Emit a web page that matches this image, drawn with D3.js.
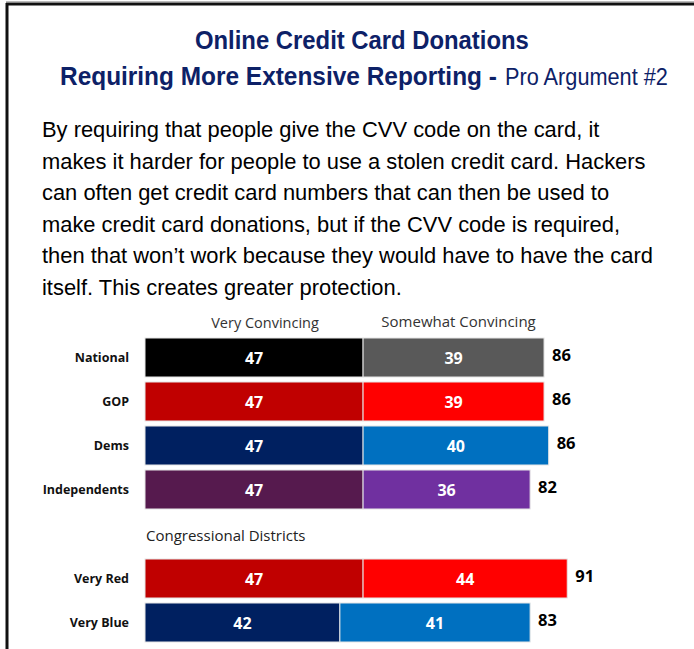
<!DOCTYPE html>
<html>
<head>
<meta charset="utf-8">
<title>Online Credit Card Donations</title>
<script src="https://cdn.jsdelivr.net/npm/d3@7"></script>
<style>
  body { margin: 0; background: #fff; }
  svg { display: block; }
</style>
</head>
<body>
<script>
// chart data
var groups = ["National", "GOP", "Dems", "Independents", "Very Red", "Very Blue"];
var veryConvincing = [47, 47, 47, 47, 47, 42];
var somewhatConvincing = [39, 39, 40, 36, 44, 41];
var totals = [86, 86, 86, 82, 91, 83];
var seriesNames = ["Very Convincing", "Somewhat Convincing"];
var darkColors = ["#000000", "#c00000", "#002060", "#561a4e", "#c00000", "#002060"];
var lightColors = ["#595959", "#ff0000", "#0070c0", "#7030a0", "#ff0000", "#0070c0"];

var bodyLines = [
  "By requiring that people give the CVV code on the card, it",
  "makes it harder for people to use a stolen credit card. Hackers",
  "can often get credit card numbers that can then be used to",
  "make credit card donations, but if the CVV code is required,",
  "then that won\u2019t work because they would have to have the card",
  "itself. This creates greater protection."
];

var width = 694, height = 649;

var svg = d3.select("body").append("svg")
    .attr("width", width)
    .attr("height", height);

// frame (top + left only)
svg.append("line").attr("x1", 6).attr("x2", width).attr("y1", 1.5).attr("y2", 1.5)
    .attr("stroke", "#bbb").attr("stroke-width", 1);
svg.append("line").attr("x1", 6).attr("x2", width).attr("y1", 4).attr("y2", 4)
    .attr("stroke", "#111").attr("stroke-width", 3);
svg.append("line").attr("x1", 7).attr("x2", 7).attr("y1", 3).attr("y2", height)
    .attr("stroke", "#111").attr("stroke-width", 3);

// title: no narrow font installed, so squeeze each piece horizontally to the original width
var navy = "#0d2167";
var titleFont = "'Liberation Sans', Arial, sans-serif";

function narrowText(str, x0, y0, w, size, bold) {
  var g = svg.append("g");
  var t = g.append("text")
      .style("font-family", titleFont)
      .style("font-weight", bold ? "bold" : "normal")
      .style("font-size", size + "px")
      .attr("fill", navy)
      .text(str);
  var sx = w / t.node().getComputedTextLength();
  g.attr("transform", "translate(" + x0 + "," + y0 + ") scale(" + sx + ",1)");
}

narrowText("Online Credit Card Donations", 195, 49, 334, 26, true);
narrowText("Requiring More Extensive Reporting -", 60, 85, 437, 26, true);
narrowText("Pro Argument #2", 505, 85, 163, 24, false);

// body text
svg.append("g").selectAll("text")
  .data(bodyLines)
  .join("text")
    .attr("x", 42)
    .attr("y", function(d, i) { return 137 + i * 31.5; })
    .style("font-family", "'Liberation Sans', Arial, sans-serif")
    .style("font-size", "21.9px")
    .attr("fill", "#000")
    .text(function(d) { return d; });

// bars
var x = d3.scaleLinear().domain([0, 100]).range([145, 145 + 464]);
var rowY = [338, 382, 426, 470, 559, 603];
var barH = 39;

var y = function(i) { return rowY[i]; };

var labelFont = "'Open Sans', 'DejaVu Sans', sans-serif";

var rows = svg.append("g").selectAll("g")
  .data(groups)
  .join("g")
    .attr("transform", function(d, i) { return "translate(0," + y(i) + ")"; });

rows.append("rect")
    .attr("x", x(0))
    .attr("y", 0)
    .attr("width", function(d, i) { return x(veryConvincing[i]) - x(0); })
    .attr("height", barH)
    .attr("fill", function(d, i) { return darkColors[i]; })
    .attr("stroke", "#e6e6e6").attr("stroke-width", 1);

rows.append("rect")
    .attr("x", function(d, i) { return x(veryConvincing[i]); })
    .attr("y", 0)
    .attr("width", function(d, i) { return x(veryConvincing[i] + somewhatConvincing[i]) - x(veryConvincing[i]); })
    .attr("height", barH)
    .attr("fill", function(d, i) { return lightColors[i]; })
    .attr("stroke", "#e6e6e6").attr("stroke-width", 1);

rows.append("text")
    .attr("x", function(d, i) { return (x(0) + x(veryConvincing[i])) / 2; })
    .attr("y", barH / 2 + 6)
    .attr("text-anchor", "middle")
    .style("font-family", labelFont).style("font-weight", "bold").style("font-size", "16px")
    .attr("fill", "#fff")
    .text(function(d, i) { return veryConvincing[i]; });

rows.append("text")
    .attr("x", function(d, i) { return (x(veryConvincing[i]) + x(veryConvincing[i] + somewhatConvincing[i])) / 2; })
    .attr("y", barH / 2 + 6)
    .attr("text-anchor", "middle")
    .style("font-family", labelFont).style("font-weight", "bold").style("font-size", "16px")
    .attr("fill", "#fff")
    .text(function(d, i) { return somewhatConvincing[i]; });

rows.append("text")
    .attr("x", function(d, i) { return x(veryConvincing[i] + somewhatConvincing[i]) + 8; })
    .attr("y", barH / 2 + 3)
    .style("font-family", labelFont).style("font-weight", "bold").style("font-size", "16.5px")
    .attr("fill", "#000")
    .text(function(d, i) { return totals[i]; });

rows.append("text")
    .attr("x", 129)
    .attr("y", barH / 2 + 4)
    .attr("text-anchor", "end")
    .style("font-family", labelFont).style("font-weight", "bold").style("font-size", "12.5px")
    .attr("fill", "#111")
    .text(function(d) { return d; });

// series headers
svg.append("text")
    .attr("x", (x(0) + x(veryConvincing[0])) / 2 + 11).attr("y", 328)
    .attr("text-anchor", "middle")
    .style("font-family", labelFont).style("font-size", "14.5px").attr("fill", "#333")
    .text(seriesNames[0]);
svg.append("text")
    .attr("x", (x(veryConvincing[0]) + x(totals[0])) / 2 + 5).attr("y", 327)
    .attr("text-anchor", "middle")
    .style("font-family", labelFont).style("font-size", "15px").attr("fill", "#333")
    .text(seriesNames[1]);

svg.append("text")
    .attr("x", 146).attr("y", 541)
    .style("font-family", labelFont).style("font-size", "15px").attr("fill", "#222")
    .text("Congressional Districts");
</script>
</body>
</html>
